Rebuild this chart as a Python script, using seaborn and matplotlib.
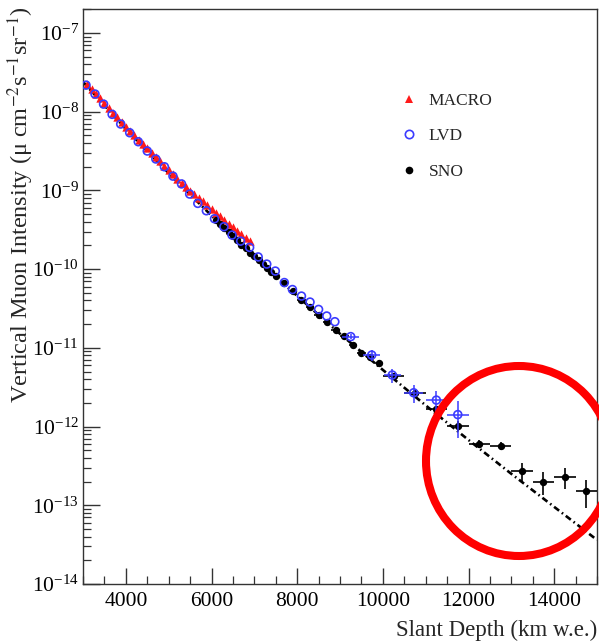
import matplotlib
matplotlib.use("Agg")
import matplotlib.pyplot as plt
import seaborn as sns
import pandas as pd
from matplotlib.patches import Ellipse
from matplotlib.lines import Line2D
from matplotlib.ticker import MultipleLocator, FixedLocator, NullFormatter, LogFormatterSciNotation

sns.set_theme(style="ticks")
plt.rcParams["font.family"] = ["Liberation Serif", "DejaVu Serif"]
plt.rcParams["mathtext.fontset"] = "stix"

# ---------------- data: slant depth (km w.e.) and vertical muon intensity ----------------
macro_depth = [3100, 3200, 3300, 3400, 3500, 3600, 3700, 3800, 3900, 4000,
               4100, 4200, 4300, 4400, 4500, 4600, 4700, 4800, 4900, 5000,
               5100, 5200, 5300, 5400, 5500, 5600, 5700, 5800, 5900, 6000,
               6100, 6200, 6300, 6400, 6500, 6600, 6700, 6800, 6900]
macro_flux = [2.24e-8, 1.95e-8, 1.70e-8, 1.48e-8, 1.29e-8, 1.12e-8, 9.77e-9, 8.51e-9, 7.41e-9, 6.46e-9,
              5.69e-9, 5.01e-9, 4.42e-9, 3.89e-9, 3.43e-9, 3.02e-9, 2.66e-9, 2.34e-9, 2.07e-9, 1.82e-9,
              1.60e-9, 1.41e-9, 1.245e-9, 1.109e-9, 9.89e-10, 9.02e-10, 8.13e-10, 7.24e-10, 6.53e-10, 5.82e-10,
              5.19e-10, 4.68e-10, 4.22e-10, 3.80e-10, 3.43e-10, 3.09e-10, 2.79e-10, 2.51e-10, 2.26e-10]

lvd_depth = [3070, 3280, 3480, 3680, 3880, 4090, 4290, 4500, 4700, 4900,
             5100, 5300, 5490, 5680, 5880, 6070, 6290, 6480, 6680, 6890,
             7090, 7290, 7490, 7700, 7890, 8100, 8300, 8500, 8690, 8880,
             9250, 9740, 10220, 10720, 11250, 11750]
lvd_flux = [2.18e-8, 1.68e-8, 1.25e-8, 9.27e-9, 6.98e-9, 5.41e-9, 4.16e-9, 3.17e-9, 2.51e-9, 2.00e-9,
            1.52e-9, 1.21e-9, 9.0e-10, 6.85e-10, 5.52e-10, 4.37e-10, 3.46e-10, 2.71e-10, 2.27e-10, 1.89e-10,
            1.43e-10, 1.16e-10, 9.46e-11, 6.76e-11, 5.51e-11, 4.55e-11, 3.82e-11, 3.08e-11, 2.54e-11, 2.15e-11,
            1.39e-11, 8.11e-12, 4.52e-12, 2.69e-12, 2.17e-12, 1.42e-12]
lvd_xerr = [0] * 30 + [200, 200, 200, 220, 250, 250]
lvd_rel_err = [0] * 30 + [0.08, 0.15, 0.20, 0.25, 0.30, 0.50]

sno_depth = [6100, 6200, 6300, 6400, 6500, 6600, 6700, 6800, 6900, 7000,
             7100, 7200, 7300, 7400, 7500, 7700, 7900, 8100, 8300, 8500,
             8700, 8900, 9100, 9300, 9500, 9700, 9900, 10250, 10750, 11250,
             11750, 12250, 12750, 13250, 13750, 14250, 14750]
sno_flux = [4.17e-10, 3.80e-10, 3.30e-10, 2.96e-10, 2.60e-10, 2.36e-10, 2.05e-10, 1.85e-10, 1.62e-10, 1.47e-10,
            1.29e-10, 1.16e-10, 1.02e-10, 9.2e-11, 8.1e-11, 6.6e-11, 5.3e-11, 4.05e-11, 3.27e-11, 2.61e-11,
            2.15e-11, 1.68e-11, 1.41e-11, 1.09e-11, 8.7e-12, 7.6e-12, 6.5e-12, 4.4e-12, 2.64e-12, 1.66e-12,
            1.03e-12, 6.0e-13, 5.65e-13, 2.7e-13, 2.0e-13, 2.3e-13, 1.5e-13]
sno_xerr = [0] * 15 + [100] * 12 + [250] * 10
sno_rel_err = [0] * 15 + [0.03, 0.03, 0.03, 0.04, 0.04, 0.04, 0.05, 0.05, 0.06, 0.06, 0.07, 0.08] + \
              [0.10, 0.12, 0.10, 0.15, 0.12, 0.12, 0.28, 0.33, 0.30, 0.38]

fit_depth = [3000, 4000, 5000, 6000, 7000, 8000, 9000, 10000, 11000, 12000, 13000, 14000, 15000]
fit_flux = [2.40e-8, 6.03e-9, 1.66e-9, 4.79e-10, 1.45e-10, 4.57e-11, 1.51e-11, 5.25e-12,
            1.86e-12, 6.76e-13, 2.51e-13, 9.55e-14, 3.63e-14]

legend_labels = ["MACRO", "LVD", "SNO"]
decades = [1e-14, 1e-13, 1e-12, 1e-11, 1e-10, 1e-9, 1e-8, 1e-7]

# ---------------- figure ----------------
W, H = 599, 642
fig = plt.figure(figsize=(W / 100, H / 100), dpi=100)
ax = fig.add_axes([83 / W, 1 - 584 / H, (597 - 83) / W, (584 - 9) / H])
ax.set_facecolor("white")

red = "#ff1a1a"
blue = "#3b3bff"

macro = pd.DataFrame({"depth": macro_depth, "flux": macro_flux})
lvd = pd.DataFrame({"depth": lvd_depth, "flux": lvd_flux, "xerr": lvd_xerr, "rel": lvd_rel_err})
sno = pd.DataFrame({"depth": sno_depth, "flux": sno_flux, "xerr": sno_xerr, "rel": sno_rel_err})
fit = pd.DataFrame({"depth": fit_depth, "flux": fit_flux})

# fitted depth-intensity curve
sns.lineplot(data=fit, x="depth", y="flux", ax=ax, color="black", linewidth=1.9,
             linestyle=(0, (2.4, 1.3, 0.6, 1.3)), zorder=2, legend=False)

# MACRO
sns.scatterplot(data=macro, x="depth", y="flux", ax=ax, marker="^", color=red,
                s=36, linewidth=0, zorder=3, legend=False)

# SNO with error bars
ax.errorbar(sno["depth"], sno["flux"], xerr=sno["xerr"],
            yerr=[sno["flux"] * sno["rel"], sno["flux"] * sno["rel"]],
            fmt="none", ecolor="black", elinewidth=1.2, capsize=0, zorder=3)
sns.scatterplot(data=sno, x="depth", y="flux", ax=ax, marker="o", color="black",
                s=28, linewidth=0, zorder=4, legend=False)

# LVD with error bars
ax.errorbar(lvd["depth"], lvd["flux"], xerr=lvd["xerr"],
            yerr=[lvd["flux"] * lvd["rel"], lvd["flux"] * lvd["rel"]],
            fmt="none", ecolor=blue, elinewidth=1.1, capsize=0, zorder=5)
sns.scatterplot(data=lvd, x="depth", y="flux", ax=ax, marker="o", facecolor="none",
                edgecolor=blue, s=32, linewidth=1.2, zorder=6, legend=False)

# ---------------- axes ----------------
ax.set_yscale("log")
ax.set_xlim(3000, 15000)
ax.set_ylim(1e-14, 2.02e-7)

ax.xaxis.set_major_locator(MultipleLocator(2000))
ax.xaxis.set_minor_locator(MultipleLocator(500))
ax.yaxis.set_major_locator(FixedLocator(decades))
ax.yaxis.set_minor_locator(FixedLocator([m * d for d in decades for m in range(2, 10)
                                         if m * d < 2.02e-7]))
ax.yaxis.set_minor_formatter(NullFormatter())
ax.yaxis.set_major_formatter(LogFormatterSciNotation())

ax.tick_params(axis="both", which="both", direction="in", top=False, right=False,
               color="#333333", labelcolor="black", labelsize=15.5)
ax.tick_params(axis="y", which="major", length=12, width=1.0, pad=3)
ax.tick_params(axis="y", which="minor", length=6, width=0.9)
ax.tick_params(axis="x", which="major", length=11.5, width=1.0, pad=6)
ax.tick_params(axis="x", which="minor", length=6, width=0.9)

for sp in ax.spines.values():
    sp.set_color("#333333")
    sp.set_linewidth(1.0)

ax.set_xlabel("Slant Depth (km w.e.)", fontsize=16.5, ha="right", va="center")
ax.xaxis.set_label_coords(1.0, -(630 - 584) / 575)
ax.set_ylabel("Vertical Muon Intensity (\u03bc cm$^{-2}$s$^{-1}$sr$^{-1}$)",
              fontsize=17.5, ha="right", va="center")
ax.yaxis.set_label_coords(-(83 - 21) / 514, (584 - 6) / 575)

# legend
handles = [
    Line2D([], [], marker="^", color=red, ls="none", markersize=5.5, markeredgewidth=0),
    Line2D([], [], marker="o", color=blue, markerfacecolor="none", ls="none",
           markersize=6, markeredgewidth=1.2),
    Line2D([], [], marker="o", color="black", ls="none", markersize=5.5, markeredgewidth=0),
]
ax.legend(handles, legend_labels, frameon=False, loc="upper left",
          bbox_to_anchor=((400 - 83) / 514, (584 - 93) / 575),
          borderaxespad=0, borderpad=0, fontsize=12.5, handlelength=1.0,
          handletextpad=0.65, labelspacing=1.1)

# highlight of the deep-depth region
ring = Ellipse((519 / W, 1 - 461 / H), 2 * 93 / W, 2 * 95 / H, transform=fig.transFigure,
               fill=False, edgecolor="#ff0000", linewidth=5.8, clip_on=False, zorder=10)
fig.add_artist(ring)

fig.savefig("out.png", dpi=100, facecolor="white")
